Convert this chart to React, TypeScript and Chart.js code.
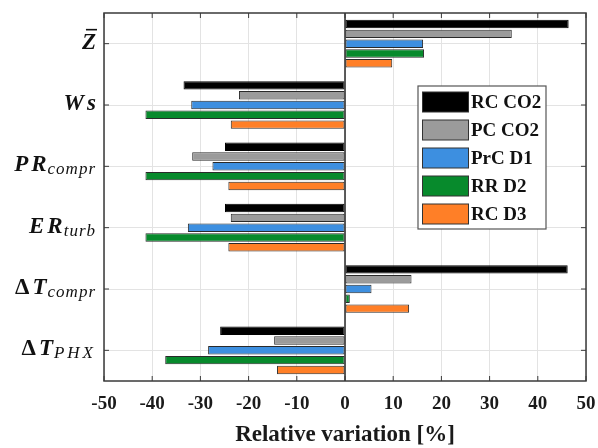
import React, { useEffect, useRef } from 'react';
import { Chart, registerables } from 'chart.js';

Chart.register(...registerables);

// Category labels: main symbol (with combining macron for the bar) and subscript
const catMain = ['Z\u0304', 'Ws', 'PR', 'ER', 'ΔT', 'ΔT'];
const catSub = ['', '', 'compr', 'turb', 'compr', 'PHX'];
const categories = catMain.map((m, i) => m + catSub[i]);

// Relative variation [%] per configuration
const rcCO2 = [46.4, -33.5, -24.9, -24.9, 46.2, -25.9];
const pcCO2 = [34.6, -22.0, -31.7, -23.7, 13.8, -14.7];
const prcD1 = [16.2, -31.9, -27.5, -32.6, 5.5, -28.4];
const rrD2 = [16.4, -41.4, -41.4, -41.4, 1.0, -37.3];
const rcD3 = [9.8, -23.7, -24.2, -24.2, 13.3, -14.1];

const seriesNames = ['RC CO2', 'PC CO2', 'PrC D1', 'RR D2', 'RC D3'];
const seriesColors = ['#000000', '#9b9b9b', '#3d8fe0', '#078a2c', '#ff7f27'];

const xTicks = [-50, -40, -30, -20, -10, 0, 10, 20, 30, 40, 50];

const SERIF = '"Liberation Serif", "DejaVu Serif", serif';

function drawCategoryLabel(ctx: CanvasRenderingContext2D, main: string, sub: string, right: number, baseY: number) {
  const mainItalic = `italic bold 23px ${SERIF}`;
  const mainUpright = `bold 23px ${SERIF}`;
  const subFont = `italic 17px ${SERIF}`;
  const subSpacing = sub === sub.toUpperCase() ? '3px' : '1px';
  const hasBar = main.includes('\u0304');
  const chars = main.replace('\u0304', '').split('');
  ctx.save();
  (ctx as any).letterSpacing = '0px';
  const widths: number[] = [];
  const gap = 3;
  chars.forEach((c) => {
    ctx.font = c === 'Δ' ? mainUpright : mainItalic;
    widths.push(ctx.measureText(c).width);
  });
  ctx.font = subFont;
  (ctx as any).letterSpacing = subSpacing;
  const subW = sub ? ctx.measureText(sub).width : 0;
  const mainW = widths.reduce((a, b) => a + b, 0) + gap * (chars.length - 1);
  let x = right - mainW - (sub ? subW + 1 : 0);
  ctx.fillStyle = '#111';
  ctx.textBaseline = 'alphabetic';
  ctx.textAlign = 'left';
  (ctx as any).letterSpacing = '0px';
  chars.forEach((c, i) => {
    ctx.font = c === 'Δ' ? mainUpright : mainItalic;
    ctx.fillText(c, x, baseY);
    if (hasBar && i === 0) {
      ctx.strokeStyle = '#111';
      ctx.lineWidth = 1.6;
      ctx.beginPath();
      ctx.moveTo(x + 4, baseY - 19);
      ctx.lineTo(x + widths[i] + 1, baseY - 19);
      ctx.stroke();
    }
    x += widths[i] + gap;
  });
  if (sub) {
    x -= gap - 1;
    ctx.font = subFont;
    (ctx as any).letterSpacing = subSpacing;
    ctx.fillText(sub, x, baseY + 3);
  }
  ctx.restore();
}

const decorPlugin = {
  id: 'decor',
  afterDatasetsDraw(chart: any) {
    const { ctx, chartArea: a, scales } = chart;
    const xs = scales.x;
    const ys = scales.y;
    ctx.save();
    // zero baseline
    const x0 = xs.getPixelForValue(0);
    ctx.strokeStyle = '#1a1a1a';
    ctx.lineWidth = 1.4;
    ctx.beginPath();
    ctx.moveTo(x0, a.top);
    ctx.lineTo(x0, a.bottom);
    ctx.stroke();
    // frame
    ctx.strokeStyle = '#3a3a3a';
    ctx.lineWidth = 1.5;
    ctx.strokeRect(a.left, a.top, a.right - a.left, a.bottom - a.top);
    // inner tick marks
    ctx.lineWidth = 1;
    ctx.beginPath();
    xTicks.forEach((v) => {
      const px = xs.getPixelForValue(v);
      ctx.moveTo(px, a.bottom);
      ctx.lineTo(px, a.bottom - 5);
      ctx.moveTo(px, a.top);
      ctx.lineTo(px, a.top + 5);
    });
    categories.forEach((_, i) => {
      const py = ys.getPixelForValue(i);
      ctx.moveTo(a.left, py);
      ctx.lineTo(a.left + 5, py);
      ctx.moveTo(a.right, py);
      ctx.lineTo(a.right - 5, py);
    });
    ctx.stroke();
    ctx.restore();
  },
  afterDraw(chart: any) {
    const { ctx, chartArea: a, scales } = chart;
    const ys = scales.y;
    // category labels
    categories.forEach((_, i) => {
      const py = ys.getPixelForValue(i);
      drawCategoryLabel(ctx, catMain[i], catSub[i], a.left - 8, py + 5);
    });
    // legend box
    const lx = a.right - 168;
    const ly = a.top + 73;
    const lw = 128;
    const lh = 143;
    ctx.save();
    ctx.fillStyle = '#ffffff';
    ctx.fillRect(lx, ly, lw, lh);
    ctx.strokeStyle = '#555';
    ctx.lineWidth = 1.2;
    ctx.strokeRect(lx, ly, lw, lh);
    chart.data.datasets.forEach((ds: any, i: number) => {
      const sy = ly + 6 + i * 28;
      ctx.fillStyle = ds.backgroundColor;
      ctx.fillRect(lx + 4.5, sy, 46, 20);
      ctx.strokeStyle = '#333';
      ctx.lineWidth = 1;
      ctx.strokeRect(lx + 4.5, sy, 46, 20);
      ctx.fillStyle = '#111';
      ctx.font = `bold 19px ${SERIF}`;
      ctx.textBaseline = 'middle';
      ctx.textAlign = 'left';
      ctx.fillText(ds.label, lx + 53, sy + 11);
    });
    ctx.restore();
  },
};

export default function App() {
  const ref = useRef<HTMLCanvasElement | null>(null);
  useEffect(() => {
    if (!ref.current) return;
    const values = [rcCO2, pcCO2, prcD1, rrD2, rcD3];
    const chart = new Chart(ref.current, {
      type: 'bar',
      data: {
        labels: categories,
        datasets: values.map((v, i) => ({
          label: seriesNames[i],
          data: v,
          backgroundColor: seriesColors[i],
          borderColor: i === 0 ? '#000' : '#2a2a2a',
          borderWidth: 1,
          borderSkipped: false,
          categoryPercentage: 0.8,
          barPercentage: 0.86,
        })),
      },
      options: {
        indexAxis: 'y',
        responsive: false,
        animation: false,
        devicePixelRatio: 1,
        layout: { padding: { left: 104, right: 12, top: 13, bottom: 0 } },
        plugins: { legend: { display: false }, tooltip: { enabled: false } },
        scales: {
          x: {
            min: -50,
            max: 50,
            afterBuildTicks: (s: any) => {
              s.ticks = xTicks.map((v) => ({ value: v }));
            },
            afterFit: (s: any) => {
              s.height = 67;
              s.paddingLeft = 0;
              s.paddingRight = 0;
            },
            ticks: {
              color: '#1a1a1a',
              padding: 12,
              font: { family: SERIF, size: 19, weight: 'bold' },
            },
            grid: { color: '#e3e3e3', drawTicks: false },
            border: { display: false },
            title: {
              display: true,
              text: 'Relative variation [%]',
              color: '#1a1a1a',
              font: { family: SERIF, size: 23, weight: 'bold', lineHeight: 1 },
              padding: { top: 0, bottom: 1 },
            },
          },
          y: {
            afterFit: (s: any) => {
              s.width = 0;
            },
            ticks: { display: false },
            grid: { color: '#e3e3e3', drawTicks: false, offset: false },
            border: { display: false },
          },
        },
      },
      plugins: [decorPlugin],
    });
    return () => chart.destroy();
  }, []);
  return (
    <div style={{ position: 'absolute', left: 0, top: 0, width: 598, height: 448, background: '#fff' }}>
      <canvas ref={ref} width={598} height={448} />
    </div>
  );
}
